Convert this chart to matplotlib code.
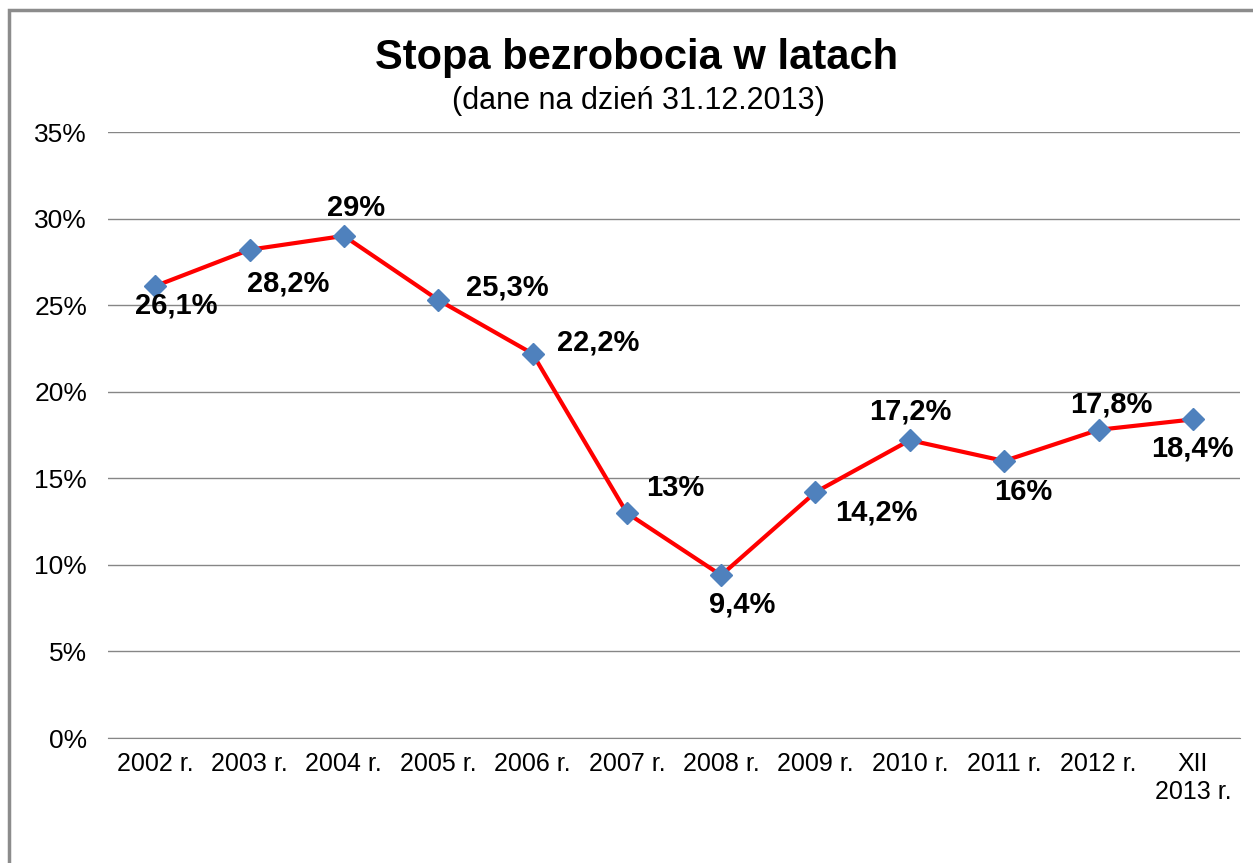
import matplotlib
matplotlib.use("Agg")
import matplotlib.pyplot as plt
from matplotlib.patches import Rectangle
from matplotlib.ticker import FuncFormatter

categories = ["2002 r.", "2003 r.", "2004 r.", "2005 r.", "2006 r.", "2007 r.",
              "2008 r.", "2009 r.", "2010 r.", "2011 r.", "2012 r.", "XII\n2013 r."]
values = [26.1, 28.2, 29.0, 25.3, 22.2, 13.0, 9.4, 14.2, 17.2, 16.0, 17.8, 18.4]
labels = ["26,1%", "28,2%", "29%", "25,3%", "22,2%", "13%", "9,4%", "14,2%",
          "17,2%", "16%", "17,8%", "18,4%"]
# label offsets in points (dx, dy)
offsets = [(15, -14), (28, -24), (9, 20), (50, 9), (47, 8), (35, 18),
           (15, -21), (44, -15), (0, 21), (14, -22), (9, 18), (0, -21)]

plt.rcParams['font.family'] = ['Liberation Sans', 'DejaVu Sans']

W, H = 1253, 863
fig = plt.figure(figsize=(W / 100, H / 100), dpi=100)
fig.patch.set_facecolor("white")

# outer border (chart area frame)
fig.patches.append(Rectangle((9 / W, -0.2), 1.1, 1.2 - 10 / H, transform=fig.transFigure,
                             fill=False, edgecolor="#8c8c8c", linewidth=2.5))

ax = fig.add_axes([108 / W, 1 - 738 / H, (1240 - 108) / W, (738 - 132) / H])
x = list(range(len(categories)))
ax.plot(x, values, color="#ff0000", linewidth=3.0, zorder=2)
ax.plot(x, values, linestyle="none", marker="D", markersize=11,
        markerfacecolor="#4f81bd", markeredgecolor="#4f81bd", zorder=3)

for xi, v, lab, (dx, dy) in zip(x, values, labels, offsets):
    ax.annotate(lab, (xi, v), xytext=(dx, dy), textcoords="offset points",
                ha="center", va="center", fontsize=21, fontweight="bold", color="black")

ax.set_xlim(-0.5, len(categories) - 0.5)
ax.set_ylim(0, 35)
ax.set_yticks(range(0, 36, 5))
ax.yaxis.set_major_formatter(FuncFormatter(lambda v, p: f"{int(v)}%"))
ax.set_xticks(x)
ax.set_xticklabels(categories)
ax.grid(axis="y", color="#868686", linewidth=1)
ax.set_axisbelow(True)
for s in ["top", "right", "left"]:
    ax.spines[s].set_visible(False)
ax.spines["bottom"].set_color("#868686")
ax.tick_params(axis="both", length=0, colors="black")
ax.tick_params(axis="y", pad=15, labelsize=19)
ax.tick_params(axis="x", pad=10, labelsize=18)
for t in ax.get_xticklabels():
    t.set_linespacing(1.2)

fig.text(637 / W, 1 - 58 / H, "Stopa bezrobocia w latach", ha="center", va="center",
         fontsize=30, fontweight="bold")
fig.text(638 / W, 1 - 101 / H, "(dane na dzień 31.12.2013)", ha="center", va="center",
         fontsize=22)

fig.savefig("out.png", dpi=100)
